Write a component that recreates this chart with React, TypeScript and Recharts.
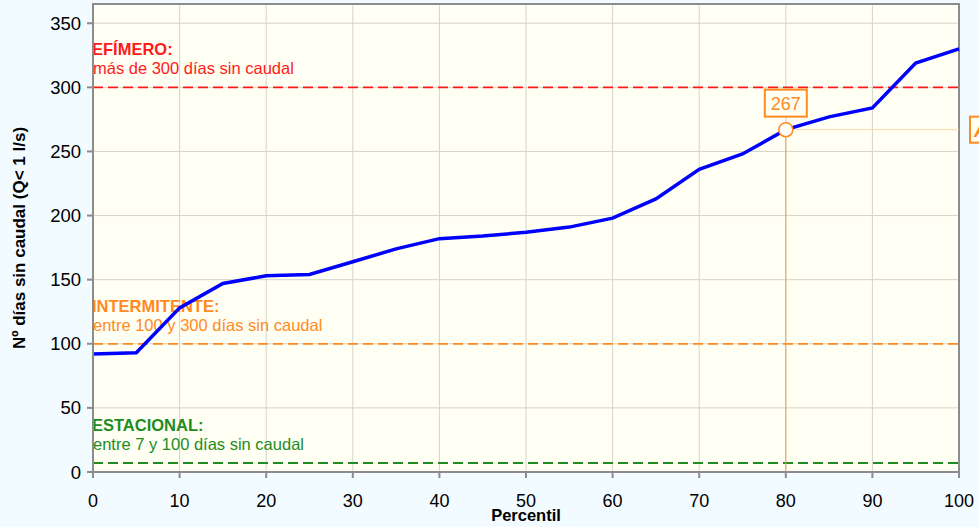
import {
  CartesianGrid,
  Line,
  LineChart,
  ReferenceArea,
  ReferenceDot,
  ReferenceLine,
  XAxis,
  YAxis,
} from 'recharts';

const percentiles = [0, 5, 10, 15, 20, 25, 30, 35, 40, 45, 50, 55, 60, 65, 70, 75, 80, 85, 90, 95, 100];
const diasSinCaudal = [92, 93, 128, 147, 153, 154, 164, 174, 182, 184, 187, 191, 198, 213, 236, 248, 267, 277, 284, 319, 330];
const xTicks = [0, 10, 20, 30, 40, 50, 60, 70, 80, 90, 100];
const yTicks = [0, 50, 100, 150, 200, 250, 300, 350];

const umbrales = [
  { valor: 300, color: '#FF1A1A', titulo: 'EFÍMERO:', texto: 'más de 300 días sin caudal' },
  { valor: 100, color: '#FF8A1F', titulo: 'INTERMITENTE:', texto: 'entre 100 y 300 días sin caudal' },
  { valor: 7, color: '#1E8C1E', titulo: 'ESTACIONAL:', texto: 'entre 7 y 100 días sin caudal' },
];

const marcado = { percentil: 80, dias: 267 };

const data = percentiles.map((p, i) => ({ p, dias: diasSinCaudal[i] }));

const FONT = '"Liberation Sans", Arial, sans-serif';
const NARANJA = '#FF8A1F';

const UmbralLabel = ({ viewBox, color, titulo, texto }: any) => {
  if (!viewBox) return null;
  const { x, y } = viewBox;
  return (
    <g fontFamily={FONT} fill={color}>
      <text x={x - 1} y={y - 32} fontSize={16.5} fontWeight="bold">
        {titulo}
      </text>
      <text x={x} y={y - 13} fontSize={16.5}>
        {texto}
      </text>
    </g>
  );
};

const MarcaLabel = ({ viewBox }: any) => {
  if (!viewBox) return null;
  const cx = viewBox.x + viewBox.width / 2;
  const cy = viewBox.y + viewBox.height / 2;
  return (
    <g fontFamily={FONT}>
      <rect x={cx - 21} y={cy - 40} width={42} height={27} fill="#FFFFF3" stroke={NARANJA} strokeWidth={2} />
      <text x={cx} y={cy - 20} fontSize={18} fill={NARANJA} textAnchor="middle">
        {marcado.dias}
      </text>
    </g>
  );
};

const BordeLabel = ({ viewBox }: any) => {
  if (!viewBox) return null;
  const x = viewBox.x + viewBox.width;
  const y = viewBox.y;
  return (
    <g fontFamily={FONT}>
      <rect x={x + 11} y={y - 13} width={44} height={26} fill="#FFFFF3" stroke={NARANJA} strokeWidth={2} />
      <text x={x + 15} y={y + 7} fontSize={18} fill={NARANJA} fontStyle="italic" fontWeight="bold">
        A
      </text>
    </g>
  );
};

export default function App() {
  return (
    <div style={{ position: 'absolute', left: 0, top: 0, width: 979, height: 527, background: '#F2FBFF' }}>
      <LineChart width={979} height={527} data={data} margin={{ top: 4, right: 20, left: 0, bottom: 0 }}>
        <CartesianGrid stroke="#D4D4CC" fill="#FFFFF3" strokeWidth={1} />
        <XAxis
          dataKey="p"
          type="number"
          domain={[0, 100]}
          ticks={xTicks}
          height={55}
          tickSize={6}
          tickMargin={16}
          stroke="#8C8C8C"
          strokeWidth={2}
          tick={{ fill: '#000', fontSize: 18, fontFamily: FONT }}
          label={({ viewBox }: any) => (
            <text
              x={viewBox.x + viewBox.width / 2}
              y={viewBox.y + 49}
              textAnchor="middle"
              fontFamily={FONT}
              fontSize={16.5}
              fontWeight="bold"
              fill="#000"
            >
              Percentil
            </text>
          )}
        />
        <YAxis
          type="number"
          domain={[0, 365]}
          ticks={yTicks}
          width={93}
          tickSize={6}
          tickMargin={6}
          stroke="#8C8C8C"
          strokeWidth={2}
          tick={{ fill: '#000', fontSize: 18.5, fontFamily: FONT }}
          label={({ viewBox }: any) => {
            const x = viewBox.x + 25;
            const y = viewBox.y + viewBox.height / 2;
            return (
              <text
                x={x}
                y={y}
                transform={`rotate(-90, ${x}, ${y})`}
                textAnchor="middle"
                fontFamily={FONT}
                fontSize={17}
                fontWeight="bold"
                fill="#000"
              >
                Nº días sin caudal (Q&lt; 1 l/s)
              </text>
            );
          }}
        />
        <ReferenceArea x1={0} x2={100} y1={0} y2={365} fill="none" stroke="#8C8C8C" strokeWidth={2} />
        {umbrales.map((u) => (
          <ReferenceLine
            key={u.valor}
            y={u.valor}
            stroke={u.color}
            strokeWidth={1.8}
            strokeDasharray="10 5"
            label={<UmbralLabel color={u.color} titulo={u.titulo} texto={u.texto} />}
          />
        ))}
        <ReferenceLine
          segment={[
            { x: marcado.percentil, y: 0 },
            { x: marcado.percentil, y: marcado.dias },
          ]}
          stroke="#FF9A3C"
          strokeWidth={1}
        />
        <ReferenceLine
          segment={[
            { x: marcado.percentil, y: marcado.dias },
            { x: 100, y: marcado.dias },
          ]}
          stroke="#FFD9A8"
          strokeWidth={1}
          label={<BordeLabel />}
        />
        <Line
          type="linear"
          dataKey="dias"
          stroke="#0000FF"
          strokeWidth={3.5}
          dot={false}
          activeDot={false}
          isAnimationActive={false}
        />
        <ReferenceDot
          x={marcado.percentil}
          y={marcado.dias}
          r={7}
          fill="#FFFFFF"
          stroke={NARANJA}
          strokeWidth={1.5}
          label={<MarcaLabel />}
        />
      </LineChart>
    </div>
  );
}
